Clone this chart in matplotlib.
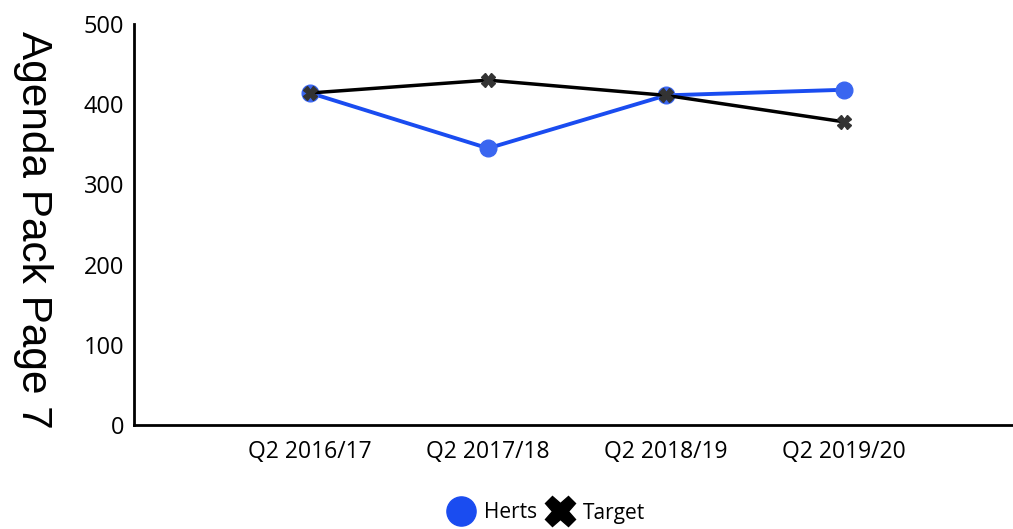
import matplotlib
matplotlib.use("Agg")
import matplotlib.pyplot as plt
from matplotlib.lines import Line2D

categories = ["Q2 2016/17", "Q2 2017/18", "Q2 2018/19", "Q2 2019/20"]
herts = [414, 345, 411, 418]
target = [414, 430, 411, 378]
yticks = [0, 100, 200, 300, 400, 500]

plt.rcParams['font.family'] = ['Open Sans', 'DejaVu Sans']

fig = plt.figure(figsize=(10.13, 5.29), dpi=100)
ax = fig.add_axes([134/1013, 1-425/529, (1013-134)/1013, (425-24)/529])

x = list(range(len(categories)))
ax.plot(x, target, color='black', lw=2.5, marker='X', ms=10, mfc='#333333', mec='#333333', zorder=3)
ax.plot(x, herts, color='#1a4cf0', lw=2.8, marker='o', ms=12, mfc='#3a66f0', mec='#3a66f0', zorder=2)

ax.set_xlim(-0.99, 3.95)
ax.set_ylim(0, 500)
ax.set_yticks(yticks)
ax.set_yticklabels([str(v) for v in yticks], fontsize=17)
ax.set_xticks(x)
ax.set_xticklabels(categories, fontsize=16.5)
ax.tick_params(length=0, pad=7)
ax.tick_params(axis='x', pad=11)
for s in ['top', 'right']:
    ax.spines[s].set_visible(False)
for s in ['left', 'bottom']:
    ax.spines[s].set_linewidth(2)
    ax.spines[s].set_color('black')

fig.text(33/1013, 1 - 230/529, "Agenda Pack Page 7", rotation=-90,
         fontsize=30.5, family='Liberation Sans', ha='center', va='center')

handles = [Line2D([], [], ls='none', marker='o', ms=21, mfc='#1a4cf0', mec='#1a4cf0'),
           Line2D([], [], ls='none', marker='X', ms=22, mfc='black', mec='black')]
fig.legend(handles, ["Herts", "Target"], loc='center', bbox_to_anchor=(548/1013, 1-513/529),
           ncol=2, frameon=False, fontsize=15, handletextpad=0.6, columnspacing=0.6, handlelength=1.0)

fig.savefig("out.png", dpi=100)
